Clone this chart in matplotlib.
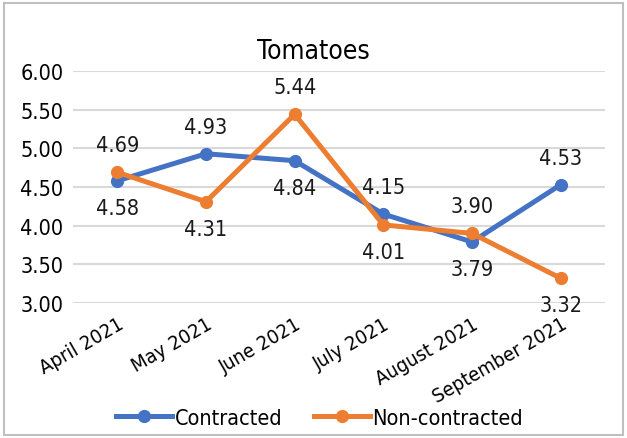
import matplotlib.pyplot as plt
from matplotlib.patches import Rectangle

months = ["April 2021", "May 2021", "June 2021", "July 2021", "August 2021", "September 2021"]
contracted = [4.58, 4.93, 4.84, 4.15, 3.79, 4.53]
non_contracted = [4.69, 4.31, 5.44, 4.01, 3.90, 3.32]
# label above (+1) or below (-1) each point
contracted_pos = [-1, 1, -1, 1, -1, 1]
non_contracted_pos = [1, -1, 1, -1, 1, -1]

plt.rcParams["font.family"] = ["DejaVu Sans"]
plt.rcParams["font.stretch"] = "condensed"

blue = "#4472C4"
orange = "#ED7D31"

fig = plt.figure(figsize=(6.27, 4.39), dpi=100)
ax = fig.add_axes([0.1164, 0.3075, 0.8486, 0.5285])

x = range(len(months))
ax.plot(x, contracted, color=blue, lw=3.6, marker="o", ms=8.5, label="Contracted")
ax.plot(x, non_contracted, color=orange, lw=3.6, marker="o", ms=8.5, label="Non-contracted")

for vals, pos in [(contracted, contracted_pos), (non_contracted, non_contracted_pos)]:
    for i, (v, p) in enumerate(zip(vals, pos)):
        ax.annotate("{:.2f}".format(v), (i, v), xytext=(0, 19.5 * p), textcoords="offset points",
                    ha="center", va="center", fontsize=15.5, color="#1a1a1a")

ax.set_xlim(-0.5, len(months) - 0.5)
ax.set_ylim(3.0, 6.0)
ax.set_yticks([3.0, 3.5, 4.0, 4.5, 5.0, 5.5, 6.0])
ax.set_yticklabels(["{:.2f}".format(t) for t in ax.get_yticks()], fontsize=15.5)
ax.set_xticks(list(x))
ax.set_xticklabels(months, rotation=30, ha="right", rotation_mode="anchor", fontsize=14.5)
ax.tick_params(length=0)
ax.tick_params(axis="y", pad=7)
ax.tick_params(axis="x", pad=8)
ax.grid(axis="y", color="#D9D9D9", lw=1.5)
ax.set_axisbelow(True)
for s in ax.spines.values():
    s.set_visible(False)

fig.text(0.5, 0.853, "Tomatoes", ha="center", va="bottom", fontsize=19)
fig.legend(loc="center", bbox_to_anchor=(0.51, 0.046), ncol=2, frameon=False,
           fontsize=15.5, handlelength=2.6, columnspacing=1.5, handletextpad=0.1)

fig.patches.append(Rectangle((0.007, 0.007), 0.986, 0.985, transform=fig.transFigure,
                             fill=False, edgecolor="#BFBFBF", lw=1.5))

fig.savefig("out.png", dpi=100)
